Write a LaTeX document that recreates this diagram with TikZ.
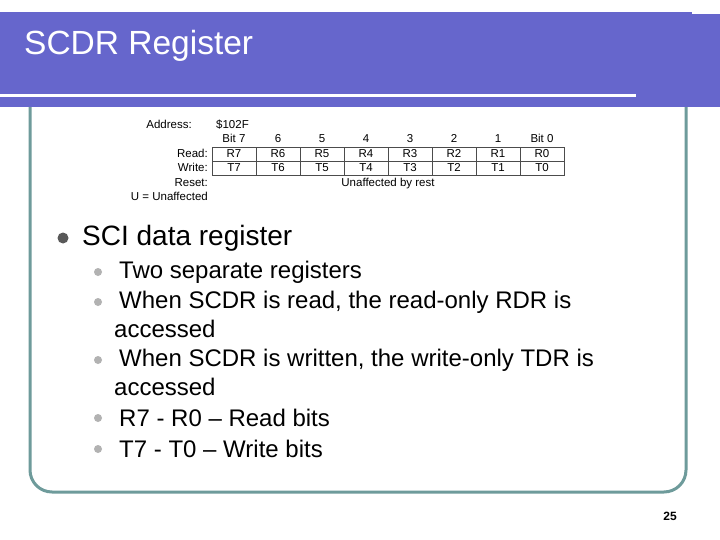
\documentclass[tikz,border=0pt]{standalone}
\usepackage{fontspec}
\setmainfont{Liberation Sans}
\definecolor{band}{RGB}{102,102,204}
\definecolor{frame}{RGB}{110,155,155}
\begin{document}
\begin{tikzpicture}[x=1pt,y=-1pt,
  tb/.style={font=\fontsize{11.5}{13}\selectfont,inner sep=0,text height=8.5pt,text depth=2pt},
  cell/.style={draw=black!70,line width=0.5pt,minimum width=44pt,minimum height=14pt,inner sep=0,text height=8.5pt,text depth=2pt,font=\fontsize{11.5}{13}\selectfont},
  body/.style={font=\fontsize{24}{26}\selectfont,anchor=west,inner sep=0},
  dot/.style={circle,fill=#1,inner sep=0,minimum size=8pt}]
\useasboundingbox (0,0) rectangle (720,540);
\fill[white] (0,0) rectangle (720,540);
% frame
\draw[frame,line width=3pt,rounded corners=22pt] (30,100) -- (30,492) -- (686,492) -- (686,100);
% header
\fill[band] (0,12) rectangle (692,107);
\fill[band] (662,14) rectangle (720,107);
\fill[white] (0,94) rectangle (636,97);
\node[anchor=west,white,font=\fontsize{33.5}{36}\selectfont,inner sep=0] (title) at (24,46) {SCDR Register};
% table
\node[tb,anchor=east] (addr) at (192,125) {Address:};
\node[tb,anchor=west] (addrv) at (216,125) {\$102F};
\foreach \h [count=\i] in {Bit 7,6,5,4,3,2,1,Bit 0}{
  \node[tb] (h\i) at ({212+44*(\i-1)+22},139) {\h};}
\foreach \r [count=\i] in {R7,R6,R5,R4,R3,R2,R1,R0}{
  \node[cell] (r\i) at ({212+44*(\i-1)+22},154) {\r};}
\foreach \t [count=\i] in {T7,T6,T5,T4,T3,T2,T1,T0}{
  \node[cell] (t\i) at ({212+44*(\i-1)+22},168) {\t};}
\node[tb,anchor=east] (rd) at (208,154) {Read:};
\node[tb,anchor=east] (wr) at (208,168) {Write:};
\node[tb,anchor=east] (rs) at (208,183) {Reset:};
\node[tb] (un) at (388,183) {Unaffected by rest};
\node[tb,anchor=east] (ua) at (208,197) {U = Unaffected};
% bullets
\node[dot=black!65,minimum size=11pt] (b0) at (63,238) {};
\node[body,font=\fontsize{28}{30}\selectfont] (l0) at (82,238) {SCI data register};
\foreach \y [count=\i] in {272,302,360,418,449}{
  \node[dot=black!30] (d\i) at (98,\y) {};}
\node[body] (l1) at (119,272) {Two separate registers};
\node[body] (l2) at (119,302) {When SCDR is read, the read-only RDR is};
\node[body] (l2b) at (114,329) {accessed};
\node[body] (l3) at (119,360) {When SCDR is written, the write-only TDR is};
\node[body] (l3b) at (114,387) {accessed};
\node[body] (l4) at (119,418) {R7 - R0 -- Read bits};
\node[body] (l5) at (119,449) {T7 - T0 -- Write bits};
\node[font=\fontsize{12}{13}\selectfont\bfseries,inner sep=0] (pg) at (670,516) {25};
\end{tikzpicture}
\end{document}
